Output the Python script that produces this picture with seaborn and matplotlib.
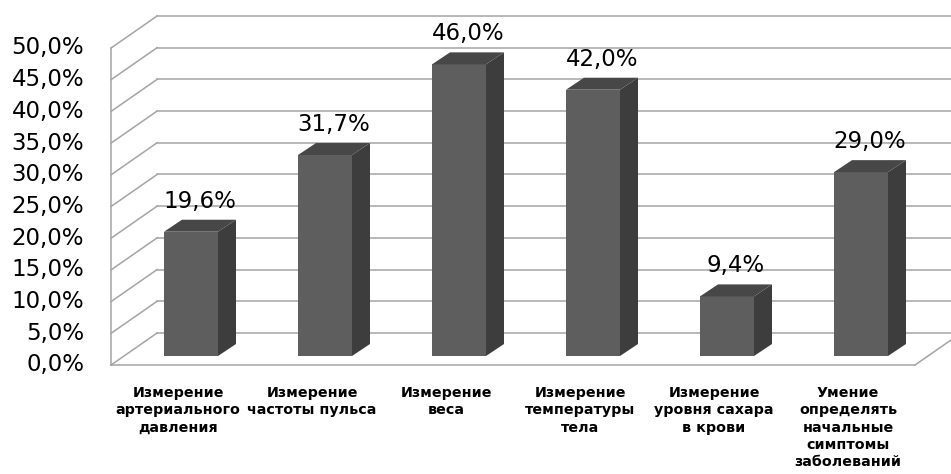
import numpy as np
import pandas as pd
import matplotlib
matplotlib.use('Agg')
import matplotlib.pyplot as plt
from matplotlib.patches import Polygon
import seaborn as sns

# data
categories = ['Измерение\nартериального\nдавления',
              'Измерение\nчастоты пульса',
              'Измерение\nвеса',
              'Измерение\nтемпературы\nтела',
              'Измерение\nуровня сахара\nв крови',
              'Умение\nопределять\nначальные\nсимптомы\nзаболеваний']
values = [19.6, 31.7, 46.0, 42.0, 9.4, 29.0]
value_labels = ['19,6%', '31,7%', '46,0%', '42,0%', '9,4%', '29,0%']
y_ticks = [0, 5, 10, 15, 20, 25, 30, 35, 40, 45, 50]
y_tick_labels = ['%d,0%%' % v for v in y_ticks]

# pseudo-3d geometry (data units of the plane where bars stand)
px_x = 134.0   # pixels per category
px_y = 6.34    # pixels per percent
depth_dx, depth_dy = 46 / px_x, 32 / px_y     # wall depth front->back
bar_frac = 0.28                                # bars sit this far into the box
fdx, fdy = -bar_frac * depth_dx, -bar_frac * depth_dy
bdx, bdy = (1 - bar_frac) * depth_dx, (1 - bar_frac) * depth_dy
bar_dx, bar_dy = 18 / px_x, 12 / px_y
bar_w = 54 / px_x
x_left, x_right = -0.5, 5.5

fig = plt.figure(figsize=(9.51, 4.74), dpi=100)
W, H = 951, 474
L, R, T, B = 95, 951, 0, 390
ax = fig.add_axes([L / W, 1 - B / H, (R - L) / W, (B - T) / H])

df = pd.DataFrame({'cat': categories, 'val': values})
sns.barplot(data=df, x='cat', y='val', ax=ax, color='#5e5e5e', width=bar_w,
            saturation=1, linewidth=0, zorder=3)

grid_c = '#a4a4a4'
gw = 1.1
for v in y_ticks:
    # back wall
    ax.plot([x_left + bdx, x_right + bdx + 1], [v + bdy, v + bdy], color=grid_c, lw=gw, zorder=1)
    # left wall
    ax.plot([x_left + fdx, x_left + bdx], [v + fdy, v + bdy], color=grid_c, lw=gw, zorder=1)
# left wall front edge and floor
ax.plot([x_left + fdx, x_left + fdx], [fdy, 50 + fdy], color=grid_c, lw=gw, zorder=1)
ax.plot([x_left + fdx, x_right + fdx], [fdy, fdy], color=grid_c, lw=gw, zorder=1)
ax.plot([x_right + fdx, x_right + bdx], [fdy, bdy], color=grid_c, lw=gw, zorder=1)

# side and top faces from the bars seaborn drew
for p, lab in zip(ax.patches, value_labels):
    x0, w, h = p.get_x(), p.get_width(), p.get_height()
    side = [(x0 + w, 0), (x0 + w + bar_dx, bar_dy), (x0 + w + bar_dx, h + bar_dy), (x0 + w, h)]
    top = [(x0, h), (x0 + w, h), (x0 + w + bar_dx, h + bar_dy), (x0 + bar_dx, h + bar_dy)]
    ax.add_patch(Polygon(side, closed=True, facecolor='#3d3d3d', edgecolor='none', zorder=3))
    ax.add_patch(Polygon(top, closed=True, facecolor='#474747', edgecolor='none', zorder=3))
    ax.text(x0 + w / 2 + bar_dx / 2, h + bar_dy + 1.1, lab, ha='center', va='bottom',
            fontsize=16.5, color='black', zorder=4)

# y tick labels (front plane)
for v, lab in zip(y_ticks, y_tick_labels):
    ax.text(x_left + fdx - 27 / px_x, v + fdy, lab, ha='right', va='center',
            fontsize=16.5, color='black')

# category labels (front plane)
for i, c in enumerate(categories):
    ax.text(i + fdx, fdy - 21 / px_y, c, ha='center', va='top', fontsize=10.3,
            fontweight='bold', linespacing=1.3, color='black')

x0_pix = 191
ax.set_xlim((L - x0_pix) / px_x, (R - x0_pix) / px_x)
ax.set_ylim((356 - B) / px_y, (356 - T) / px_y)
ax.axis('off')

fig.savefig('out.png', dpi=100)
